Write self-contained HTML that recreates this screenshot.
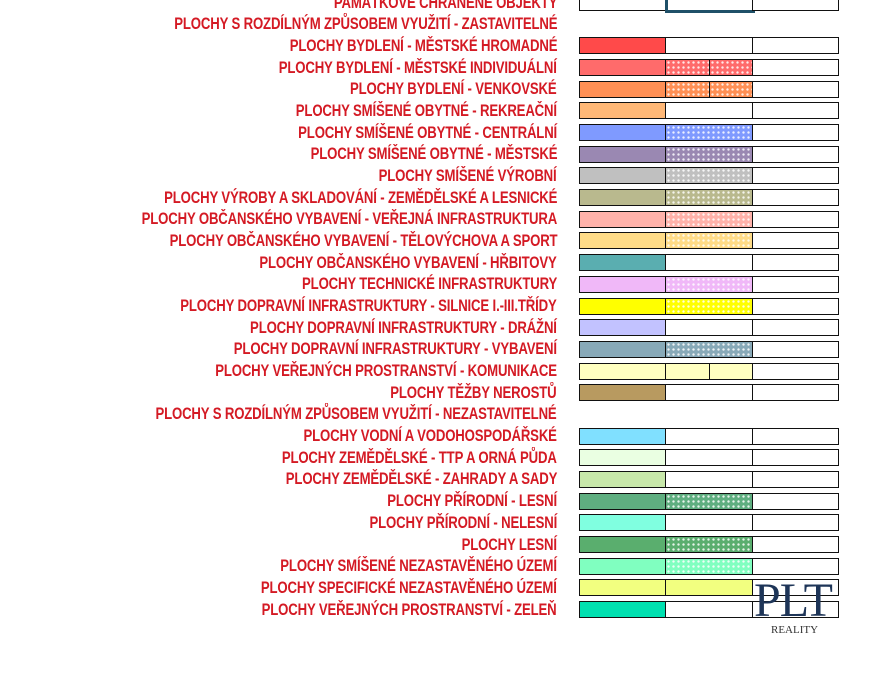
<!DOCTYPE html>
<html><head><meta charset="utf-8"><style>
body{margin:0;width:895px;height:676px;background:#fff;position:relative;overflow:hidden;font-family:"Liberation Sans",sans-serif}
.l{position:absolute;right:338px;font-weight:bold;color:#d41a24;font-size:17px;white-space:nowrap;line-height:18px;letter-spacing:-0.2px;transform:scaleX(0.775);transform-origin:right center}
.b{position:absolute;height:15px;border:1.5px solid #111;box-sizing:content-box}
.d{background-image:radial-gradient(circle,rgba(255,255,255,.85) 1px,transparent 1.4px);background-size:5px 5px}
.logo{position:absolute;left:754px;top:578px;font-family:"Liberation Serif",serif;font-size:48px;color:#1e3558;letter-spacing:-1px;line-height:46px}
.r{position:absolute;left:771px;top:624px;font-family:"Liberation Serif",serif;font-size:11px;color:#333}
</style></head><body>
<div id="c"></div>
<div class="logo">PLT</div><div class="r">REALITY</div>
<script>
var rows=[
["PAMÁTKOVĚ CHRÁNĚNÉ OBJEKTY","#fff",0],
["PLOCHY S ROZDÍLNÝM ZPŮSOBEM VYUŽITÍ - ZASTAVITELNÉ",null],
["PLOCHY BYDLENÍ - MĚSTSKÉ HROMADNÉ","#ff4a4a",0],
["PLOCHY BYDLENÍ - MĚSTSKÉ INDIVIDUÁLNÍ","#ff6b6b",2],
["PLOCHY BYDLENÍ - VENKOVSKÉ","#ff9055",2],
["PLOCHY SMÍŠENÉ OBYTNÉ - REKREAČNÍ","#ffb877",0],
["PLOCHY SMÍŠENÉ OBYTNÉ - CENTRÁLNÍ","#7f9aff",1],
["PLOCHY SMÍŠENÉ OBYTNÉ - MĚSTSKÉ","#9a88b2",1],
["PLOCHY SMÍŠENÉ VÝROBNÍ","#c0c0c0",1],
["PLOCHY VÝROBY A SKLADOVÁNÍ - ZEMĚDĚLSKÉ A LESNICKÉ","#b9b98e",1],
["PLOCHY OBČANSKÉHO VYBAVENÍ - VEŘEJNÁ INFRASTRUKTURA","#ffb2aa",1],
["PLOCHY OBČANSKÉHO VYBAVENÍ - TĚLOVÝCHOVA A SPORT","#ffdc88",1],
["PLOCHY OBČANSKÉHO VYBAVENÍ - HŘBITOVY","#5aaeb0",0],
["PLOCHY TECHNICKÉ INFRASTRUKTURY","#f0b8f8",1],
["PLOCHY DOPRAVNÍ INFRASTRUKTURY - SILNICE I.-III.TŘÍDY","#ffff00",1],
["PLOCHY DOPRAVNÍ INFRASTRUKTURY - DRÁŽNÍ","#c2c2ff",0],
["PLOCHY DOPRAVNÍ INFRASTRUKTURY - VYBAVENÍ","#88a9b8",1],
["PLOCHY VEŘEJNÝCH PROSTRANSTVÍ - KOMUNIKACE","#ffffc0",3],
["PLOCHY TĚŽBY NEROSTŮ","#b89a60",0],
["PLOCHY S ROZDÍLNÝM ZPŮSOBEM VYUŽITÍ - NEZASTAVITELNÉ",null],
["PLOCHY VODNÍ A VODOHOSPODÁŘSKÉ","#80e0ff",0],
["PLOCHY ZEMĚDĚLSKÉ - TTP A ORNÁ PŮDA","#eaffe2",0],
["PLOCHY ZEMĚDĚLSKÉ - ZAHRADY A SADY","#c8e8aa",0],
["PLOCHY PŘÍRODNÍ - LESNÍ","#5fae80",1],
["PLOCHY PŘÍRODNÍ - NELESNÍ","#80ffe0",0],
["PLOCHY LESNÍ","#5aae6e",1],
["PLOCHY SMÍŠENÉ NEZASTAVĚNÉHO ÚZEMÍ","#80ffc0",1],
["PLOCHY SPECIFICKÉ NEZASTAVĚNÉHO ÚZEMÍ","#f2ff80",4],
["PLOCHY VEŘEJNÝCH PROSTRANSTVÍ - ZELEŇ","#00e0b0",0]];
var h="";
rows.forEach(function(r,i){
 var cy=2.5+i*21.68;
 h+='<div class="l" style="top:'+(cy-9)+'px">'+r[0]+'</div>';
 if(!r[1])return;
 var t=cy-8.5;
 var c2="#fff",c3="#fff",d2="",d3="";
 if(r[2]==1||r[2]==2){c2=r[1];d2=" d";}
 if(r[2]==2){c3=r[1];d3=" d";}
 if(r[2]==3||r[2]==4){c2=r[1];}
 h+='<div class="b" style="left:579px;top:'+t+'px;width:85px;background:'+r[1]+'"></div>';
 if(r[2]==2){
  h+='<div class="b'+d2+'" style="left:665px;top:'+t+'px;width:43px;background-color:'+c2+'"></div>';
  h+='<div class="b'+d3+'" style="left:709px;top:'+t+'px;width:42px;background-color:'+c3+'"></div>';
 }else if(r[2]==3){
  h+='<div class="b" style="left:665px;top:'+t+'px;width:43px;background:'+c2+'"></div>';
  h+='<div class="b" style="left:709px;top:'+t+'px;width:42px;background:'+c2+'"></div>';
 }else if(i==0){
  h+='<div class="b" style="left:665px;top:'+(t-2)+'px;width:84px;border:3px solid #1f5068;background:#fff"></div>';
 }else{
  h+='<div class="b'+d2+'" style="left:665px;top:'+t+'px;width:86px;background-color:'+c2+'"></div>';
 }
 h+='<div class="b" style="left:752px;top:'+t+'px;width:85px;background:#fff"></div>';
});
document.getElementById("c").innerHTML=h;
</script>
</body></html>
